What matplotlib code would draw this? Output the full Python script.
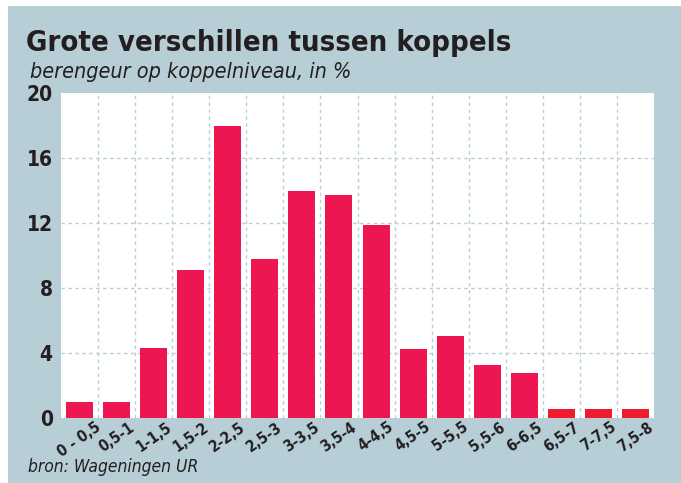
import matplotlib
matplotlib.use("Agg")
import matplotlib.pyplot as plt
from matplotlib.patches import Rectangle

categories = ["0 - 0,5", "0,5-1", "1-1,5", "1,5-2", "2-2,5", "2,5-3", "3-3,5", "3,5-4",
              "4-4,5", "4,5-5", "5-5,5", "5,5-6", "6-6,5", "6,5-7", "7-7,5", "7,5-8"]
values = [1.0, 1.0, 4.3, 9.1, 18.0, 9.8, 14.0, 13.7, 11.9, 4.25, 5.05, 3.25, 2.8, 0.55, 0.55, 0.55]
yticks = [0, 4, 8, 12, 16, 20]

W, H = 681, 483
fig = plt.figure(figsize=(W / 100, H / 100), dpi=100)
fig.patch.set_facecolor("white")
bg = "#b7ced6"
fig.add_artist(Rectangle((8 / W, 0), 1 - 8 / W, 1 - 6 / H, transform=fig.transFigure,
                         facecolor=bg, edgecolor="none", zorder=-10))

fam = "DejaVu Sans"
st = "condensed"
dark = "#231f20"

ax = fig.add_axes([61 / W, 1 - 418 / H, (654 - 61) / W, (418 - 93) / H])
ax.set_zorder(1)
ax.set_facecolor("white")
colors = ["#ed1651"] * 13 + ["#ee1c2e"] * 3
x = list(range(len(categories)))
ax.bar(x, values, width=0.73, color=colors, zorder=3)
ax.set_xlim(-0.5, len(categories) - 0.5)
ax.set_ylim(0, 20)
ax.set_yticks(yticks)
ax.set_yticklabels([str(v) for v in yticks], fontsize=15, fontweight="bold",
                   color=dark, family=fam, fontstretch=st)
ax.set_xticks(x)
ax.set_xticklabels(categories, rotation=35, ha="center", fontsize=11, fontweight="bold",
                   color=dark, family=fam, fontstretch=st)
ax.tick_params(axis="both", length=0)
ax.tick_params(axis="y", pad=6)
ax.tick_params(axis="x", pad=1)
for s in ax.spines.values():
    s.set_visible(False)
grid_kw = dict(color="#b7ced6", linestyle=(0, (2.5, 2.5)), linewidth=1.0, zorder=1)
for v in yticks[1:-1]:
    ax.axhline(v, **grid_kw)
for b in range(1, len(categories)):
    ax.axvline(b - 0.5, **grid_kw)

fig.text(26 / W, 1 - 51 / H, "Grote verschillen tussen koppels", fontsize=21, fontweight="bold",
         family=fam, fontstretch=st, color=dark, ha="left", va="baseline")
fig.text(30 / W, 1 - 78 / H, "berengeur op koppelniveau, in %", fontsize=15.5, style="italic",
         family=fam, fontstretch=st, color=dark, ha="left", va="baseline")
fig.text(28 / W, 1 - 472 / H, "bron: Wageningen UR", fontsize=12.5, style="italic",
         family=fam, fontstretch=st, color=dark, ha="left", va="baseline")

fig.savefig("out.png", dpi=100, facecolor=fig.get_facecolor())
